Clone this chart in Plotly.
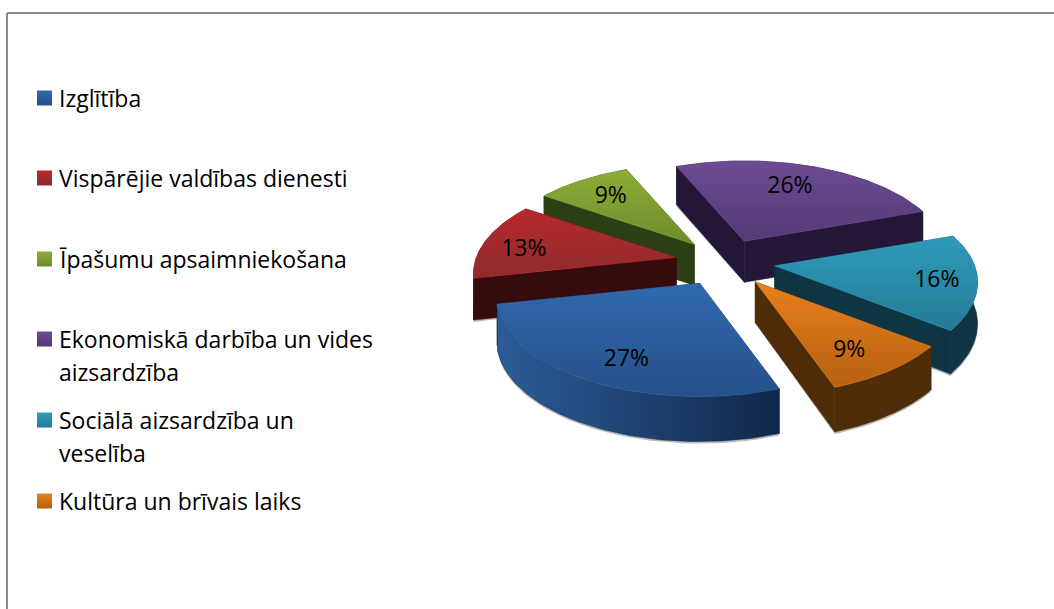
import numpy as np
import plotly.graph_objects as go

categories = ["Izglītība", "Vispārējie valdības dienesti", "Īpašumu apsaimniekošana",
              "Ekonomiskā darbība un vides<br>aizsardzība", "Sociālā aizsardzība un<br>veselība",
              "Kultūra un brīvais laiks"]
values = [27, 13, 9, 26, 16, 9]
top_light = ["#3069ae", "#b8292b", "#8cae35", "#6d4b94", "#2f9cba", "#e8801e"]
top_dark = ["#26508a", "#8e2b2c", "#6f8b2e", "#543a77", "#237a96", "#b5600f"]
side_light = ["#2c5c98", "#4a1010", "#334816", "#2e1c44", "#14404f", "#5c340a"]
side_dark = ["#10284a", "#360b0b", "#2c3e13", "#241636", "#0f3442", "#4e2c08"]
legend_y = [98, 178, 259, 339, 420, 501]
label_dx = [10, -7, 4, -9, 9, -5]
label_dy = [7, 6, 3, 4, 4, 5]
draw_order = [3, 2, 1, 0, 4, 5]

# projection of the pie disc to the page
CX, CY = 725, 262
A, B, K = 200, 94, 0.17
START = 70.5
EXPLODE = 0.25
DEPTH = 41
LABEL_R = 0.76
FONT = "Open Sans"
LINE_GAP = 33


def proj(u, v):
    w = 1 - K * v
    return A * u / w, B * v / w, DEPTH * w ** -0.5


fracs = np.array(values) / sum(values)
edges = START + 360 * np.concatenate([[0], np.cumsum(fracs)])
fig = go.Figure()


def poly(xs, ys, c0, c1, kind="vertical"):
    fig.add_trace(go.Scatter(
        x=list(xs) + [xs[0]], y=list(ys) + [ys[0]], mode="lines", line=dict(width=0.5, color=c1),
        fill="toself", hoverinfo="skip", showlegend=False,
        fillgradient=dict(type=kind, colorscale=[[0, c0], [1, c1]])))


# soft shadows first
for i in draw_order:
    a0, a1 = edges[i], edges[i + 1]
    mid = np.radians((a0 + a1) / 2)
    ox, oy, _ = proj(EXPLODE * np.cos(mid), EXPLODE * np.sin(mid))
    t = np.radians(np.linspace(a0, a1, 50))
    px, py, pd = proj(np.cos(t), np.sin(t))
    sx = CX + ox + px
    sy = CY + oy + py + pd + 2
    fig.add_trace(go.Scatter(x=list(sx) + [CX + ox], y=list(sy) + [CY + oy + DEPTH], mode="lines",
                             line=dict(width=0), fill="toself", fillcolor="rgba(60,60,60,0.35)",
                             hoverinfo="skip", showlegend=False))

labels = []
for i in draw_order:
    a0, a1 = edges[i], edges[i + 1]
    mid = np.radians((a0 + a1) / 2)
    ox, oy, _ = proj(EXPLODE * np.cos(mid), EXPLODE * np.sin(mid))
    x0, y0 = CX + ox, CY + oy
    t = np.radians(np.linspace(a0, a1, 80))
    px, py, pd = proj(np.cos(t), np.sin(t))
    ax, ay = x0 + px, y0 + py
    _, _, d0 = proj(0.0, 0.0)
    # radial cut faces
    poly([x0, ax[0], ax[0], x0], [y0, ay[0], ay[0] + pd[0], y0 + d0], side_dark[i], side_dark[i])
    poly([x0, ax[-1], ax[-1], x0], [y0, ay[-1], ay[-1] + pd[-1], y0 + d0], side_dark[i], side_dark[i])
    # rim
    rx = np.concatenate([ax, ax[::-1]])
    ry = np.concatenate([ay, (ay + pd)[::-1]])
    if i == 0:
        poly(rx, ry, side_light[i], side_dark[i], "horizontal")
    else:
        poly(rx, ry, side_dark[i], side_dark[i], "horizontal")
    # top: the gradient's zero end is the low edge of the face
    poly(np.concatenate([[x0], ax]), np.concatenate([[y0], ay]), top_dark[i], top_light[i])
    lx, ly, _ = proj(LABEL_R * np.cos(mid), LABEL_R * np.sin(mid))
    labels.append((x0 + lx + label_dx[i], y0 + ly + label_dy[i], f"{values[i]}%"))

fig.add_trace(go.Scatter(x=[l[0] for l in labels], y=[l[1] for l in labels], text=[l[2] for l in labels],
                         mode="text", textposition="middle center",
                         textfont=dict(family=FONT, size=23, color="#000000"),
                         hoverinfo="skip", showlegend=False))

# legend
fig.add_trace(go.Scatter(
    x=[44.5] * len(categories), y=legend_y, mode="markers", hoverinfo="skip", showlegend=False,
    marker=dict(symbol="square", size=15, color=top_light, line=dict(width=0),
                gradient=dict(type="vertical", color=top_dark))))
ann = []
for name, y in zip(categories, legend_y):
    for k, line in enumerate(name.split("<br>")):
        ann.append(dict(x=57, y=y + k * LINE_GAP, xref="x", yref="y", text=line, showarrow=False,
                        xanchor="left", yanchor="middle", yshift=0, align="left",
                        font=dict(family=FONT, size=23, color="#000000")))

fig.update_layout(
    width=1054, height=609, margin=dict(l=0, r=0, t=0, b=0),
    paper_bgcolor="white", plot_bgcolor="white", showlegend=False,
    xaxis=dict(range=[0, 1054], visible=False, fixedrange=True),
    yaxis=dict(range=[609, 0], visible=False, fixedrange=True),
    annotations=ann,
    shapes=[dict(type="line", xref="x", yref="y", x0=7, y0=13, x1=1054, y1=13, line=dict(color="#8a8a8a", width=2)),
            dict(type="line", xref="x", yref="y", x0=7, y0=13, x1=7, y1=609, line=dict(color="#8a8a8a", width=2))],
)
fig.write_html("out.html", config={"displayModeBar": False},
               post_script="document.body.style.margin='0';document.body.style.overflow='hidden';")
